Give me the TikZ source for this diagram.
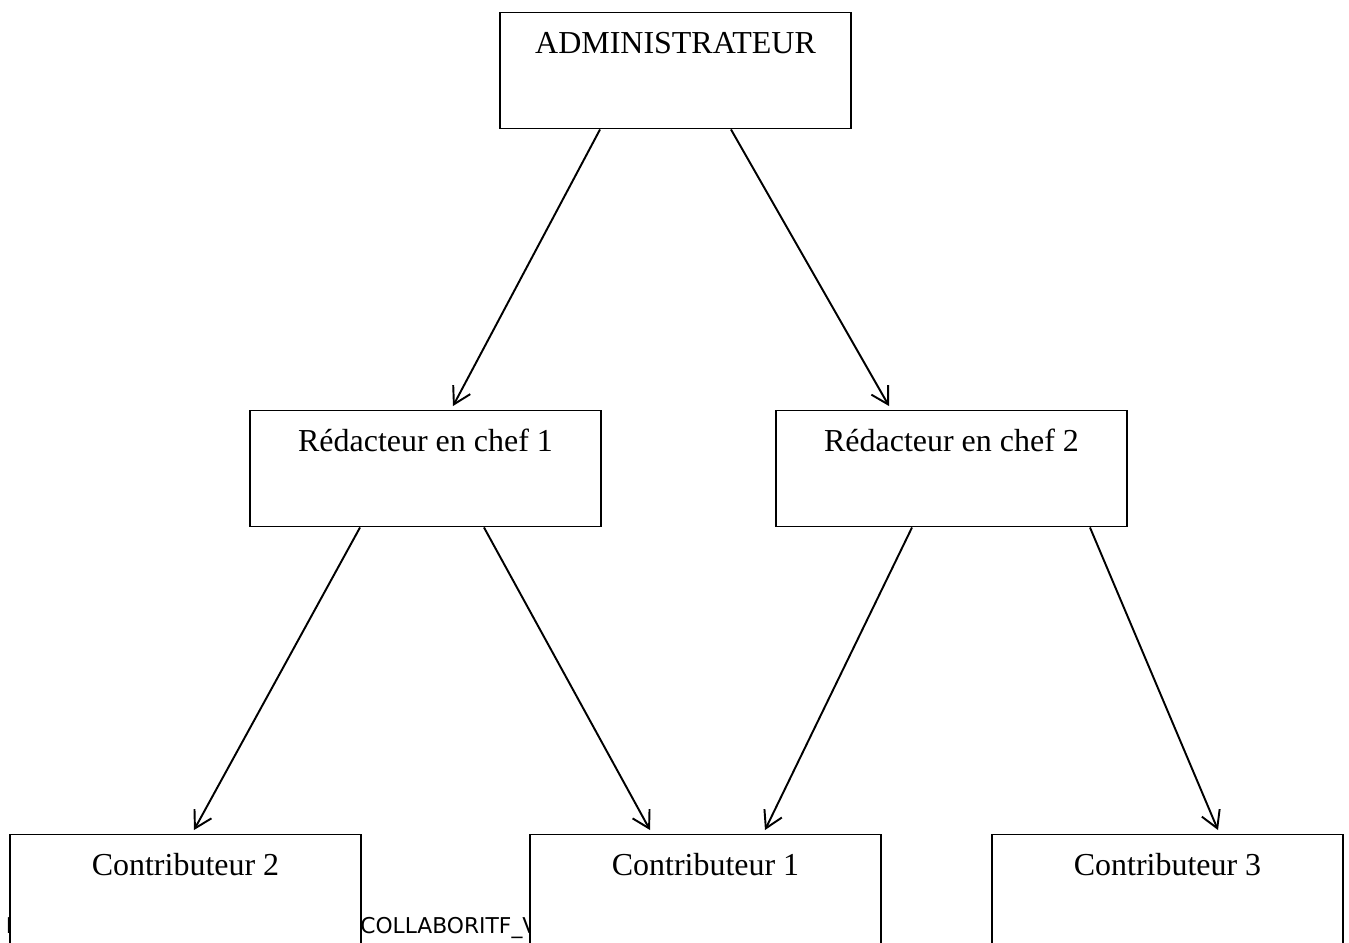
\documentclass[tikz,border=0pt]{standalone}
\usepackage{fontspec}
\setmainfont{Liberation Serif}
\newfontfamily\notefont{DejaVu Sans}
\usepackage{tikz}
\usetikzlibrary{arrows.meta}

\begin{document}
\begin{tikzpicture}[x=0.02cm, y=-0.02cm,
      box/.style={draw=black, line width=0.7pt, fill=white, minimum width=7.02cm, align=center,
        font=\fontsize{18.2}{22}\selectfont, inner xsep=0pt, inner ysep=11.6pt, text height=12pt, text depth=31.2pt},
      arrow/.style={-{Straight Barb[length=9.5pt, width=11pt, line width=1.1pt]}, line width=1.1pt, draw=black},
      note/.style={font=\notefont\fontsize{12.4}{15}\selectfont, inner sep=0pt}]
    \useasboundingbox (0,0) rectangle (1349,943);
    \clip (0,0) rectangle (1349,943);
    % page footer lying under the lower boxes
    \node[note, anchor=base] (footl) at (9,933) {I};
    \node[note, anchor=base west] (foot) at (360,933) {COLLABORITF\_V};
    % boxes
    \node[box] (admin) at (675.5,70.5) {ADMINISTRATEUR};
    \node[box] (red1) at (425.5,468.5) {Rédacteur en chef 1};
    \node[box] (red2) at (951.5,468.5) {Rédacteur en chef 2};
    \node[box] (con2) at (185.5,892.5) {Contributeur 2};
    \node[box] (con1) at (705.5,892.5) {Contributeur 1};
    \node[box] (con3) at (1167.5,892.5) {Contributeur 3};
    % arrows
    \draw[arrow] ([xshift=-1.51cm]admin.south) -- ([xshift=0.55cm, yshift=2pt]red1.north);
    \draw[arrow] ([xshift=1.11cm]admin.south) -- ([xshift=-1.25cm, yshift=2pt]red2.north);
    \draw[arrow] ([xshift=-1.31cm]red1.south) -- ([xshift=0.17cm, yshift=2pt]con2.north);
    \draw[arrow] ([xshift=1.17cm]red1.south) -- ([xshift=-1.11cm, yshift=2pt]con1.north);
    \draw[arrow] ([xshift=-0.79cm]red2.south) -- ([xshift=1.19cm, yshift=2pt]con1.north);
    \draw[arrow] ([xshift=2.77cm]red2.south) -- ([xshift=1.01cm, yshift=2pt]con3.north);
\end{tikzpicture}
\end{document}
